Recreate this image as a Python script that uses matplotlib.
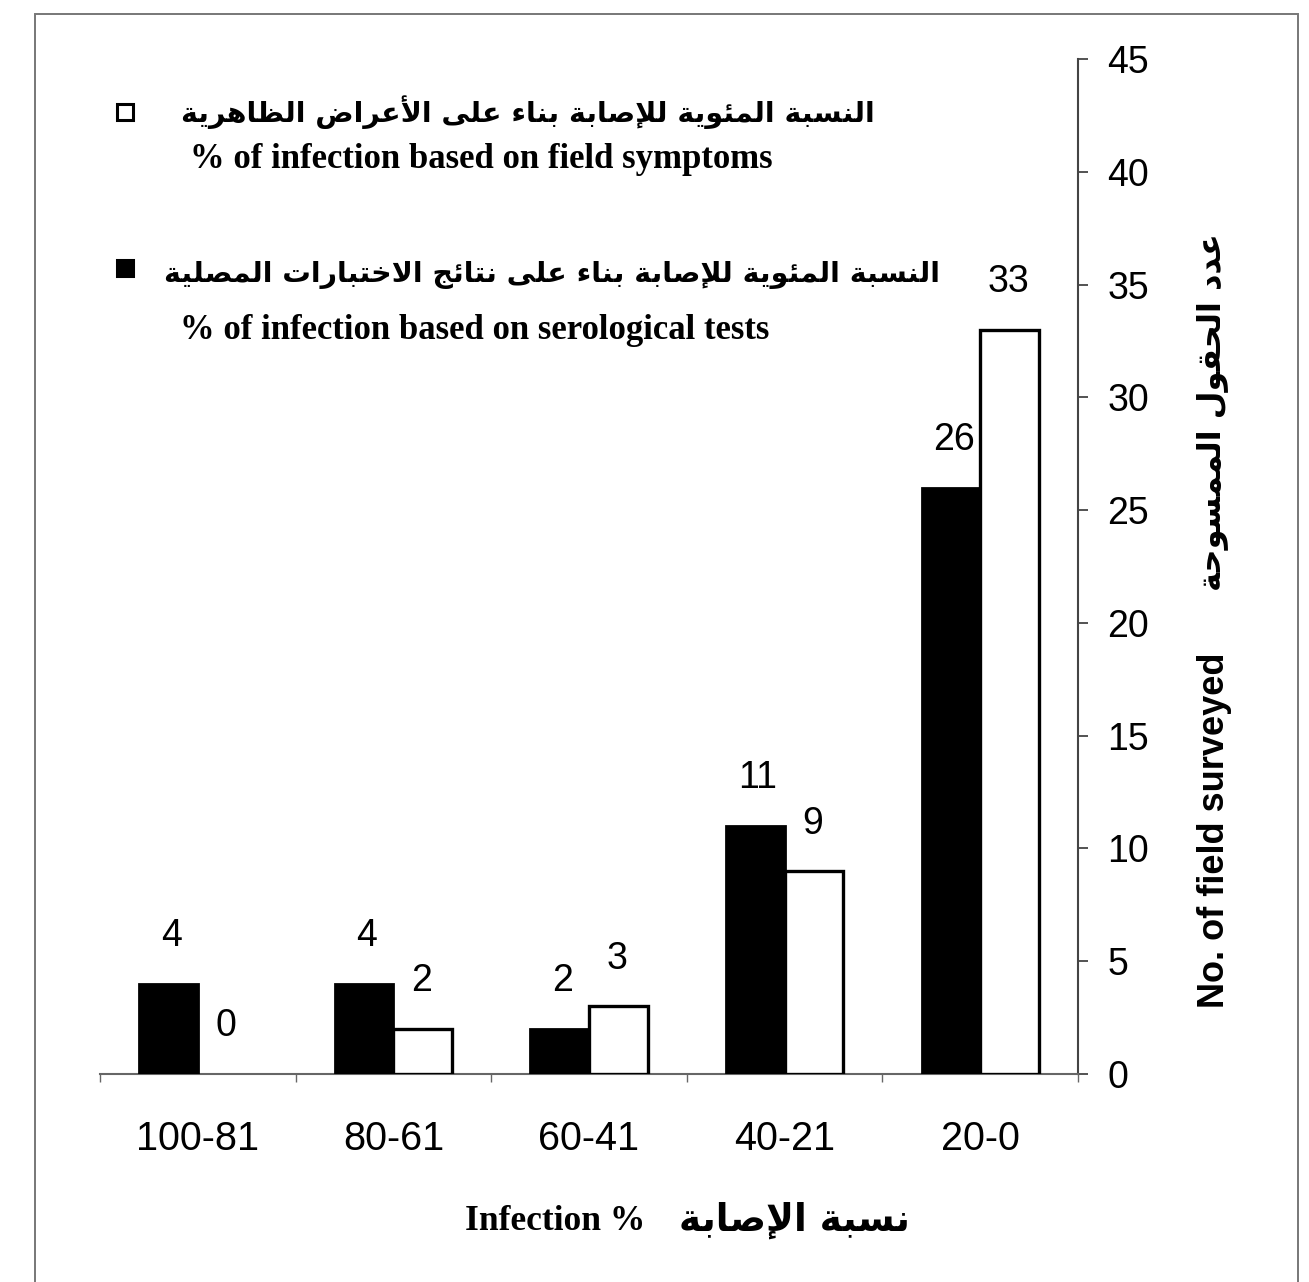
import matplotlib
matplotlib.use('Agg')
import matplotlib.pyplot as plt
from matplotlib.patches import Rectangle
import numpy as np

# ---------------- data ----------------
categories = ['100-81', '80-61', '60-41', '40-21', '20-0']
serological = [4, 4, 2, 11, 26]     # black bars
symptoms = [0, 2, 3, 9, 33]         # white bars
yticks = [0, 5, 10, 15, 20, 25, 30, 35, 40, 45]

legend_sym_ar = 'النسبة المئوية للإصابة بناء على الأعراض الظاهرية'
legend_sym_en = '% of infection based on field symptoms'
legend_ser_ar = 'النسبة المئوية للإصابة بناء على نتائج الاختبارات المصلية'
legend_ser_en = '% of infection based on serological tests'
ylabel_ar = 'عدد الحقول الممسوحة'
ylabel_en = 'No. of field surveyed'
xlabel_ar = 'نسبة الإصابة'
xlabel_en = 'Infection %'

# ---------------- simple Arabic shaping (presentation forms + visual order) ----------------
_DUAL = {'ئ': 0xFE89, 'ب': 0xFE8F, 'ت': 0xFE95, 'ث': 0xFE99, 'ج': 0xFE9D, 'ح': 0xFEA1,
         'خ': 0xFEA5, 'س': 0xFEB1, 'ش': 0xFEB5, 'ص': 0xFEB9, 'ض': 0xFEBD, 'ط': 0xFEC1,
         'ظ': 0xFEC5, 'ع': 0xFEC9, 'غ': 0xFECD, 'ف': 0xFED1, 'ق': 0xFED5, 'ك': 0xFED9,
         'ل': 0xFEDD, 'م': 0xFEE1, 'ن': 0xFEE5, 'ه': 0xFEE9, 'ي': 0xFEF1}
_RIGHT = {'آ': 0xFE81, 'أ': 0xFE83, 'ؤ': 0xFE85, 'إ': 0xFE87, 'ا': 0xFE8D, 'ة': 0xFE93,
          'د': 0xFEA9, 'ذ': 0xFEAB, 'ر': 0xFEAD, 'ز': 0xFEAF, 'و': 0xFEED, 'ى': 0xFEEF}
_NONE = {'ء': 0xFE80}
_LAMALEF = {'آ': 0xFEF5, 'أ': 0xFEF7, 'إ': 0xFEF9, 'ا': 0xFEFB}


def shape(text):
    toks = []
    i = 0
    while i < len(text):
        c = text[i]
        if c == 'ل' and i + 1 < len(text) and text[i + 1] in _LAMALEF:
            toks.append(('R', _LAMALEF[text[i + 1]]))
            i += 2
            continue
        if c in _DUAL:
            toks.append(('D', _DUAL[c]))
        elif c in _RIGHT:
            toks.append(('R', _RIGHT[c]))
        elif c in _NONE:
            toks.append(('N', _NONE[c]))
        else:
            toks.append(('X', c))
        i += 1
    out = []
    for k, (kind, base) in enumerate(toks):
        if kind == 'X':
            out.append(base)
            continue
        if kind == 'N':
            out.append(chr(base))
            continue
        prev_joins = k > 0 and toks[k - 1][0] == 'D'
        next_joins = kind == 'D' and k + 1 < len(toks) and toks[k + 1][0] in ('D', 'R')
        if kind == 'R':
            out.append(chr(base + (1 if prev_joins else 0)))
        else:
            if prev_joins and next_joins:
                off = 3
            elif prev_joins:
                off = 1
            elif next_joins:
                off = 2
            else:
                off = 0
            out.append(chr(base + off))
    return ''.join(out)[::-1]


# ---------------- figure ----------------
W, H = 1309, 1282
fig = plt.figure(figsize=(W / 100, H / 100), dpi=100)
fig.patch.set_facecolor('white')


def fx(px):
    return px / W


def fy(py):
    return 1 - py / H


AR = ['DejaVu Sans']
NUM = ['Liberation Sans', 'DejaVu Sans']
SERIF = ['Liberation Serif', 'DejaVu Serif']

# outer frame
fig.add_artist(Rectangle((fx(35), -0.01), fx(1298) - fx(35), fy(14) + 0.01,
                         transform=fig.transFigure, fill=False, edgecolor='#777777', lw=1.4))

ax = fig.add_axes([fx(100), fy(1074), fx(1078) - fx(100), fy(59) - fy(1074)])

x = np.arange(len(categories))
bw = 0.300
ax.bar(x - bw / 2, serological, bw, color='black', edgecolor='black', linewidth=2.0, zorder=3)
ax.bar(x + bw / 2, symptoms, bw, color='white', edgecolor='black',
       linewidth=[0 if v == 0 else 2.4 for v in symptoms], zorder=3)

for xi, v in zip(x, serological):
    ax.annotate(str(v), (xi - bw / 2, v), xytext=(2, 27), textcoords='offset points',
                ha='center', va='baseline', fontsize=27, family=NUM)
for xi, v in zip(x, symptoms):
    ax.annotate(str(v), (xi + bw / 2, v), xytext=(-1, 27), textcoords='offset points',
                ha='center', va='baseline', fontsize=27, family=NUM)

ax.set_xlim(-0.5, len(categories) - 0.5)
ax.set_ylim(0, 45)
ax.set_yticks(yticks)
ax.yaxis.tick_right()
ax.tick_params(axis='y', direction='out', length=7, width=1.3, color='#444444',
               labelsize=27, pad=14)
for lab in ax.get_yticklabels():
    lab.set_family(NUM)

ax.set_xticks(x)
ax.set_xticklabels(categories, fontsize=28.5, family=NUM)
ax.tick_params(axis='x', which='major', length=0, pad=33)
ax.set_xticks(np.arange(-0.5, len(categories)), minor=True)
ax.tick_params(axis='x', which='minor', direction='out', length=6, width=1.0, color='#666666')

for s in ['left', 'top']:
    ax.spines[s].set_visible(False)
ax.spines['right'].set_color('#444444')
ax.spines['right'].set_linewidth(1.5)
ax.spines['bottom'].set_color('#666666')
ax.spines['bottom'].set_linewidth(1.5)

# y label (right side)
fig.text(fx(1214), fy(830), ylabel_en, rotation=90, ha='center', va='center',
         fontsize=26, fontweight='bold', family=['Liberation Sans'])
fig.text(fx(1212), fy(412), shape(ylabel_ar), rotation=90, ha='center', va='center',
         fontsize=23, fontweight='bold', family=AR)

# x label
fig.text(fx(645), fy(1222), xlabel_en, ha='right', va='center',
         fontsize=25.5, fontweight='bold', family=SERIF)
fig.text(fx(910), fy(1220), shape(xlabel_ar), ha='right', va='center',
         fontsize=27, fontweight='bold', family=AR)

# legend
fig.add_artist(Rectangle((fx(117), fy(120)), 16 / W, 16 / H, transform=fig.transFigure,
                         facecolor='white', edgecolor='black', lw=2.2))
fig.add_artist(Rectangle((fx(117), fy(276)), 16 / W, 16 / H, transform=fig.transFigure,
                         facecolor='black', edgecolor='black', lw=2.2))
fig.text(fx(875), fy(112), shape(legend_sym_ar), ha='right', va='center',
         fontsize=20.5, fontweight='bold', family=AR)
fig.text(fx(190), fy(160), legend_sym_en, ha='left', va='center',
         fontsize=25, fontweight='bold', family=SERIF)
fig.text(fx(940), fy(275), shape(legend_ser_ar), ha='right', va='center',
         fontsize=20.5, fontweight='bold', family=AR)
fig.text(fx(180), fy(330), legend_ser_en, ha='left', va='center',
         fontsize=25, fontweight='bold', family=SERIF)

fig.savefig('out.png', dpi=100, facecolor='white')
